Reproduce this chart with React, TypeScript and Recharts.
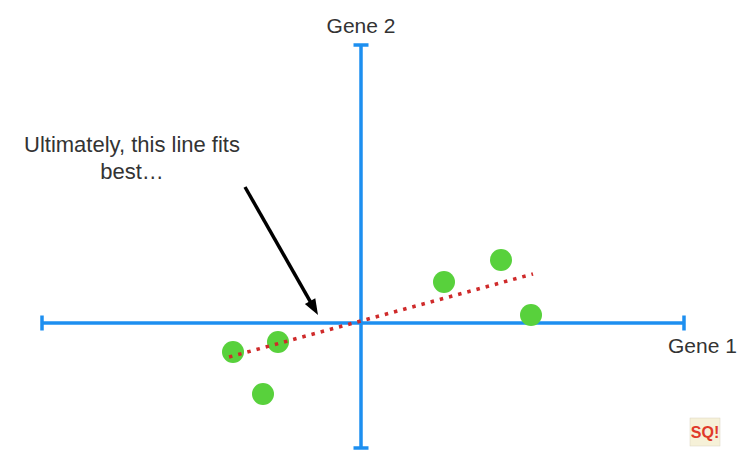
import React from 'react';
import { ScatterChart, Scatter, XAxis, YAxis, ReferenceLine, ReferenceDot } from 'recharts';

// Sample values (Gene 1 on x, Gene 2 on y)
const gene1 = [-12.8, -8.3, -9.8, 8.3, 14.0, 17.0];
const gene2 = [-2.9, -1.9, -7.1, 4.1, 6.3, 0.8];
const points = gene1.map((x, i) => ({ x, y: gene2[i] }));

// Best fitting line endpoints
const fitLineX = [-13.2, 17.2];
const fitLineY = [-3.4, 4.9];
const fitLine = fitLineX.map((x, i) => ({ x, y: fitLineY[i] }));

// Axis extents
const axisXRange = [-31.9, 32.3];
const axisYRange = [-12.5, 27.8];
const capHalf = 0.75;

// Arrow (from, to)
const arrowX = [-11.6, -4.3];
const arrowY = [13.6, 0.8];

// Texts
const annotationLines = ['Ultimately, this line fits', 'best…'];
const annotationPos = { x: -22.9, y: 17.1 };
const xAxisLabel = 'Gene 1';
const xAxisLabelPos = { x: 30.7, y: -3.0 };
const yAxisLabel = 'Gene 2';
const yAxisLabelPos = { x: 0, y: 29 };
const logoText = 'SQ!';
const logoPos = { x: 34.4, y: -10.9 };

const FONT = '"Liberation Sans", Arial, Helvetica, sans-serif';
const BLUE = '#1d8ff0';
const GREEN = '#58d13c';
const RED = '#cf2a2a';
const TEXT = '#333333';

const ArrowShape = (p: any) => {
  const { x1, y1, x2, y2 } = p;
  const dx = x2 - x1;
  const dy = y2 - y1;
  const len = Math.sqrt(dx * dx + dy * dy) || 1;
  const ux = dx / len;
  const uy = dy / len;
  const nx = -uy;
  const ny = ux;
  const L = 16;
  const W = 6;
  const bx = x2 - ux * L;
  const by = y2 - uy * L;
  return (
    <g>
      <line x1={x1} y1={y1} x2={x2 - ux * 6} y2={y2 - uy * 6} stroke="#000" strokeWidth={3.5} />
      <polygon
        points={`${x2},${y2} ${bx + nx * W},${by + ny * W} ${bx - nx * W},${by - ny * W}`}
        fill="#000"
      />
    </g>
  );
};

const TextShape = (lines: string[], anchor: string, size: number, color: string, lineGap: number) => (p: any) => (
  <text x={p.cx} y={p.cy} textAnchor={anchor} fontFamily={FONT} fontSize={size} fill={color}>
    {lines.map((l, i) => (
      <tspan key={i} x={p.cx} dy={i === 0 ? 0 : lineGap}>
        {l}
      </tspan>
    ))}
  </text>
);

const LogoShape = (p: any) => (
  <g>
    <rect x={p.cx - 15} y={p.cy - 14} width={30} height={28} fill="#f6f1d8" stroke="#d9d4c0" strokeWidth={0.5} />
    <text x={p.cx} y={p.cy + 6} textAnchor="middle" fontFamily={FONT} fontWeight="bold" fontSize={16} fill="#e03a2a">
      {logoText}
    </text>
  </g>
);

export default function App() {
  return (
    <div style={{ margin: '-8px', width: 745, height: 459, overflow: 'hidden', background: '#fff' }}>
      <ScatterChart width={745} height={459} margin={{ top: 23, right: 34, bottom: 6, left: 11 }}>
        <XAxis type="number" dataKey="x" hide domain={[-35, 35]} allowDataOverflow />
        <YAxis type="number" dataKey="y" hide domain={[-13, 30]} allowDataOverflow />

        {/* Axes */}
        <ReferenceLine
          segment={[{ x: axisXRange[0], y: 0 }, { x: axisXRange[1], y: 0 }]}
          stroke={BLUE}
          strokeWidth={3.5}
        />
        <ReferenceLine
          segment={[{ x: 0, y: axisYRange[0] }, { x: 0, y: axisYRange[1] }]}
          stroke={BLUE}
          strokeWidth={3.5}
        />
        {axisXRange.map((v, i) => (
          <ReferenceLine
            key={'cx' + i}
            segment={[{ x: v, y: -capHalf }, { x: v, y: capHalf }]}
            stroke={BLUE}
            strokeWidth={3.5}
          />
        ))}
        {axisYRange.map((v, i) => (
          <ReferenceLine
            key={'cy' + i}
            segment={[{ x: -capHalf, y: v }, { x: capHalf, y: v }]}
            stroke={BLUE}
            strokeWidth={3.5}
          />
        ))}

        <Scatter
          data={points}
          fill={GREEN}
          isAnimationActive={false}
          shape={(p: any) => <circle cx={p.cx} cy={p.cy} r={11} fill={GREEN} />}
        />

        {/* Fit line */}
        <Scatter
          data={fitLine}
          isAnimationActive={false}
          line={{ stroke: RED, strokeWidth: 3.5, strokeDasharray: '3.5 6' }}
          shape={() => <g />}
        />

        {/* Arrow */}
        <ReferenceLine
          segment={[{ x: arrowX[0], y: arrowY[0] }, { x: arrowX[1], y: arrowY[1] }]}
          shape={ArrowShape}
        />

        <ReferenceDot x={annotationPos.x} y={annotationPos.y} r={0} shape={TextShape(annotationLines, 'middle', 22, TEXT, 27)} />
        <ReferenceDot x={yAxisLabelPos.x} y={yAxisLabelPos.y} r={0} shape={TextShape([yAxisLabel], 'middle', 21, TEXT, 0)} />
        <ReferenceDot x={xAxisLabelPos.x} y={xAxisLabelPos.y} r={0} shape={TextShape([xAxisLabel], 'start', 21, TEXT, 0)} />
        <ReferenceDot x={logoPos.x} y={logoPos.y} r={0} shape={LogoShape} />
      </ScatterChart>
    </div>
  );
}
